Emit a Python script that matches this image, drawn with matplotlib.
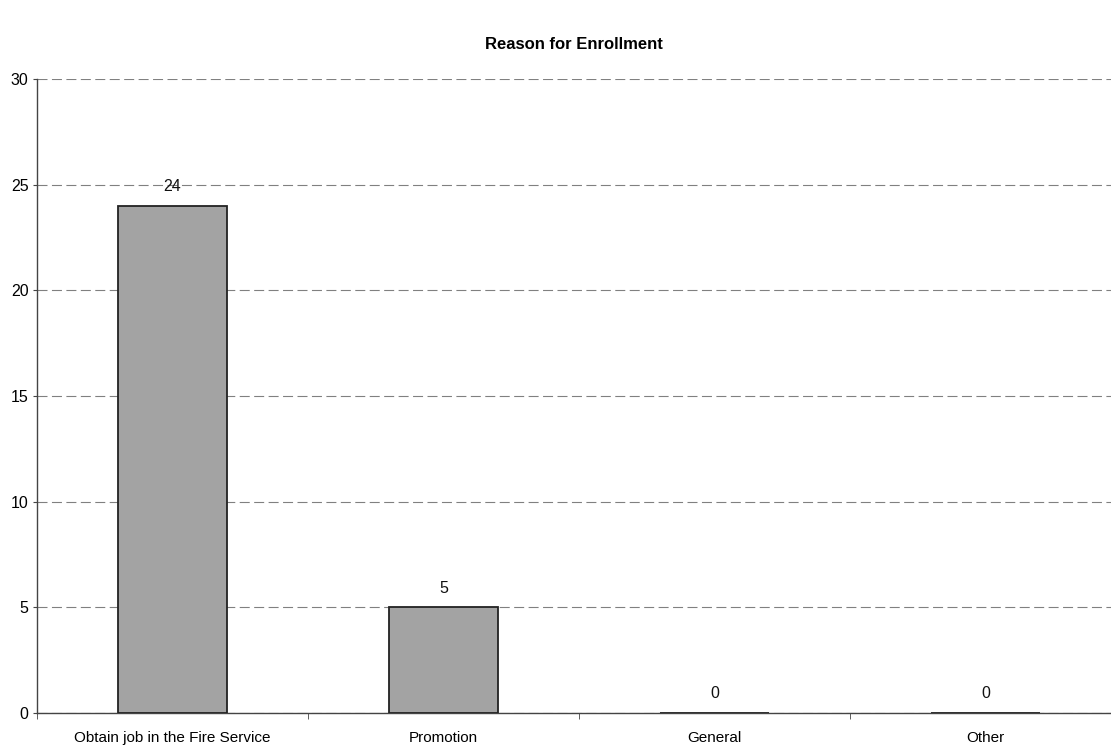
import matplotlib

matplotlib.use("Agg")

import matplotlib.pyplot as plt
import numpy as np

plt.rcParams["font.family"] = ["Liberation Sans", "DejaVu Sans"]

categories = ["Obtain job in the Fire Service", "Promotion", "General", "Other"]
counts = [24, 5, 0, 0]
y_ticks = [0, 5, 10, 15, 20, 25, 30]

fig = plt.figure(figsize=(11.11, 7.47), dpi=100)
# plot area runs a little past the right edge of the page
ax = fig.add_axes([0.0333, 0.0455, 0.9757, 0.849])

x = np.arange(len(categories))
bars = ax.bar(x, counts, width=0.4, color="#a3a3a3", edgecolor="#222222", linewidth=1.3, zorder=3)

for rect, value in zip(bars, counts):
    ax.text(rect.get_x() + rect.get_width() / 2, value + 0.55, f"{value}",
            ha="center", va="bottom", fontsize=11.5, color="#111111")

ax.set_xlim(-0.5, len(categories) - 0.5)
ax.set_ylim(0, 30)
ax.set_yticks(y_ticks)
ax.tick_params(axis="y", labelsize=11.5, length=3, color="#444444", pad=3)

# category labels centred, tick marks on the category boundaries
ax.set_xticks(x)
ax.set_xticklabels(categories, fontsize=11)
ax.tick_params(axis="x", which="major", length=0, pad=13)
ax.set_xticks(np.arange(len(categories) + 1) - 0.5, minor=True)
ax.tick_params(axis="x", which="minor", length=4, color="#444444")

ax.yaxis.grid(True, linestyle=(0, (9, 4)), color="#808080", linewidth=0.8, zorder=0)
for side in ("top", "right"):
    ax.spines[side].set_visible(False)
for side in ("left", "bottom"):
    ax.spines[side].set_color("#444444")
    ax.spines[side].set_linewidth(1.0)

fig.text(0.517, 0.94, "Reason for Enrollment", ha="center", va="center",
         fontsize=12, fontweight="bold")

fig.savefig("out.png", dpi=100)
